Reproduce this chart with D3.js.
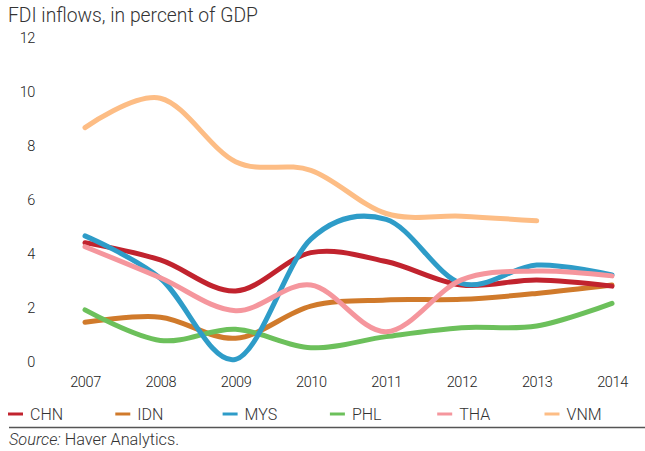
<!DOCTYPE html>
<html><head><meta charset="utf-8">
<script src="https://cdn.jsdelivr.net/npm/d3@7/dist/d3.min.js"></script>
<style>body{margin:0;background:#fff}svg{display:block}</style>
</head><body>
<svg id="c" width="645" height="451"></svg>
<script>
const years = [2007, 2008, 2009, 2010, 2011, 2012, 2013, 2014];
const yTicks = [0, 2, 4, 6, 8, 10, 12];
const CHN = [4.42, 3.78, 2.63, 4.05, 3.72, 2.85, 3.04, 2.81];
const IDN = [1.47, 1.66, 0.88, 2.07, 2.3, 2.32, 2.54, 2.85];
const MYS = [4.67, 3.1, 0.1, 4.55, 5.28, 2.91, 3.59, 3.22];
const PHL = [1.93, 0.8, 1.21, 0.53, 0.94, 1.27, 1.33, 2.17];
const THA = [4.27, 3.12, 1.9, 2.85, 1.12, 3.04, 3.37, 3.19];
const VNM = [8.68, 9.77, 7.42, 7.1, 5.5, 5.4, 5.23, null];
const seriesNames = ["CHN", "IDN", "MYS", "PHL", "THA", "VNM"];
const seriesValues = [CHN, IDN, MYS, PHL, THA, VNM];
const colors = ["#c1232e", "#d07a2b", "#2e9cc8", "#6cc05b", "#f5969d", "#fdbd85"];

const tickFont = "Roboto, sans-serif";
const svg = d3.select("#c");
const x = d3.scalePoint().domain(years).range([85, 612]);
const y = d3.scaleLinear().domain([0, 12]).range([362, 38]);

svg.append("text").attr("x", 8).attr("y", 22)
  .attr("font-family", "Roboto, sans-serif").attr("font-weight", 300).attr("font-size", 19.3)
  .attr("fill", "#333").text("FDI inflows, in percent of GDP");

const yAxis = svg.append("g").attr("transform", "translate(35,0)")
  .call(d3.axisLeft(y).tickValues(yTicks).tickSize(0).tickPadding(0));
yAxis.select(".domain").remove();
yAxis.selectAll("text").attr("font-family", tickFont).attr("font-weight", 300)
  .attr("font-size", 14.5).attr("letter-spacing", -0.4).attr("fill", "#222");

const xAxis = svg.append("g").attr("transform", "translate(0,377)")
  .call(d3.axisBottom(x).tickSize(0).tickPadding(0).tickFormat(d3.format("d")));
xAxis.select(".domain").remove();
xAxis.selectAll("text").attr("font-family", tickFont).attr("font-weight", 300)
  .attr("font-size", 14.5).attr("letter-spacing", -0.4).attr("fill", "#222");

const line = d3.line()
  .defined(d => d[1] != null)
  .x(d => x(d[0])).y(d => y(d[1]))
  .curve(d3.curveCardinal.tension(0));

const order = [5, 1, 3, 0, 2, 4];
order.forEach(i => {
  const pts = years.map((yr, j) => [yr, seriesValues[i][j]]).filter(p => p[1] != null);
  svg.append("path").datum(pts).attr("d", line)
    .attr("fill", "none").attr("stroke", colors[i]).attr("stroke-width", 5)
    .attr("stroke-linecap", "round").attr("stroke-linejoin", "round");
});

const lg = svg.append("g");
seriesNames.forEach((n, i) => {
  const lx = 8 + i * 107.3;
  lg.append("line").attr("x1", lx).attr("x2", lx + 15).attr("y1", 414).attr("y2", 414)
    .attr("stroke", colors[i]).attr("stroke-width", 3);
  lg.append("text").attr("x", lx + 22).attr("y", 420)
    .attr("font-family", tickFont).attr("font-weight", 300)
    .attr("font-size", 16).attr("fill", "#333").text(n);
});

svg.append("line").attr("x1", 9).attr("x2", 645).attr("y1", 427.5).attr("y2", 427.5)
  .attr("stroke", "#555").attr("stroke-width", 1.5);

const src = svg.append("text").attr("x", 9).attr("y", 445)
  .attr("font-family", "Roboto, sans-serif").attr("font-weight", 300).attr("font-size", 16.3).attr("fill", "#333");
src.append("tspan").attr("font-style", "italic").text("Source:");
src.append("tspan").text(" Haver Analytics.");
</script>
</body></html>
